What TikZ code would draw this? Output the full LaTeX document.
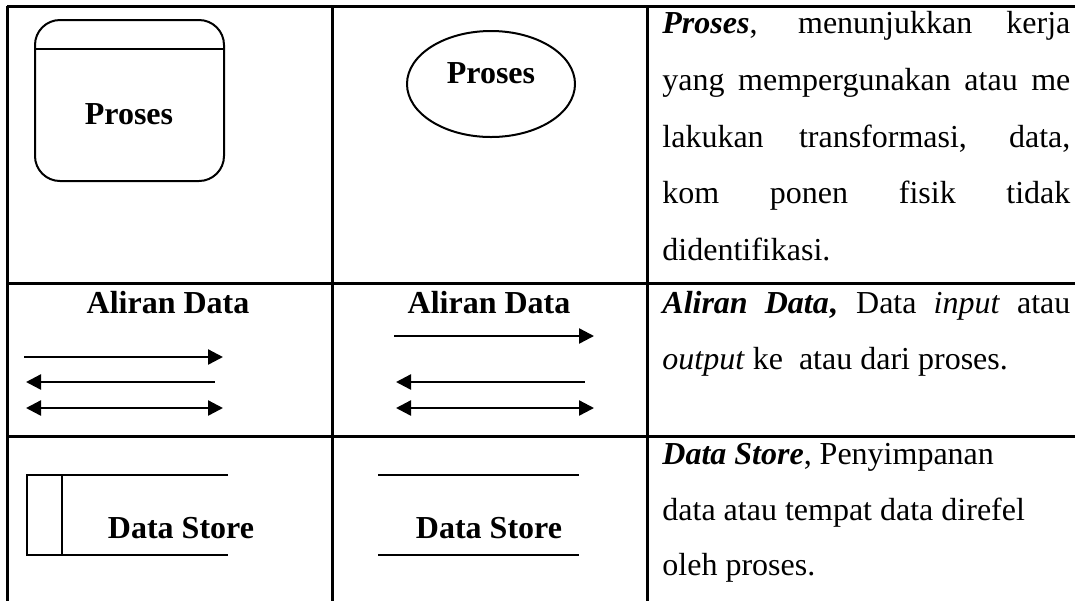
\documentclass[tikz,border=0pt]{standalone}
\usepackage{fontspec}
\setmainfont{Liberation Serif}
\usetikzlibrary{arrows.meta,shapes.geometric}

\begin{document}
\begin{tikzpicture}[x=0.5pt,y=-0.5pt,
  grid/.style={line width=1.5pt},
  outline/.style={line width=1pt},
  tip/.tip={Triangle[length=7.5pt,width=7.5pt]},
  flow/.style={line width=1.2pt,-tip},
  backflow/.style={line width=1.2pt,tip-},
  bothflow/.style={line width=1.2pt,tip-tip},
  lbl/.style={font=\fontsize{16}{19}\selectfont\bfseries,inner sep=0pt,anchor=base},
  body/.style={font=\fontsize{16}{19}\selectfont,inner sep=0pt,anchor=base west},
]
\useasboundingbox (0,0) rectangle (1075,601);

% table rules
\draw[grid] (7,6) -- (1075,6);
\draw[grid] (7,283) -- (1075,283);
\draw[grid] (7,436) -- (1075,436);
\draw[grid] (7,6) -- (7,601);
\draw[grid] (332,6) -- (332,601);
\draw[grid] (647,6) -- (647,601);

% row 1: process symbols
\draw[outline,rounded corners=12.5pt] (35,20) rectangle (224,181);
\draw[outline] (35,49) -- (224,49);
\node[lbl] (procA) at (129,124) {Proses};
\draw[outline] (491,84) ellipse [x radius=42pt,y radius=26.5pt];
\node[lbl] (procB) at (491,83) {Proses};

% row 2: data flow symbols
\node[lbl] (flowA) at (168,313) {Aliran Data};
\coordinate (a1s) at (24,357);  \coordinate (a1e) at (223,357);
\coordinate (a2s) at (26,382);  \coordinate (a2e) at (215,382);
\coordinate (a3s) at (26,408);  \coordinate (a3e) at (223,408);
\draw[flow] (a1s) -- (a1e);
\draw[backflow] (a2s) -- (a2e);
\draw[bothflow] (a3s) -- (a3e);

\node[lbl] (flowB) at (489,313) {Aliran Data};
\coordinate (b1s) at (394,336); \coordinate (b1e) at (594,336);
\coordinate (b2s) at (396,382); \coordinate (b2e) at (585,382);
\coordinate (b3s) at (396,408); \coordinate (b3e) at (594,408);
\draw[flow] (b1s) -- (b1e);
\draw[backflow] (b2s) -- (b2e);
\draw[bothflow] (b3s) -- (b3e);

% row 3: data store symbols
\draw[outline] (228,475) -- (27,475) -- (27,555) -- (228,555);
\draw[outline] (62,475) -- (62,555);
\node[lbl] (storeA) at (181,538) {Data Store};
\draw[outline] (378,475) -- (579,475);
\draw[outline] (378,555) -- (579,555);
\node[lbl] (storeB) at (489,538) {Data Store};

% descriptions
\node[body] (d11) at (662,33) {\makebox[204pt][s]{\textbf{\textit{Proses}}, menunjukkan kerja}};
\node[body] (d12) at (662,90) {\makebox[204pt][s]{yang mempergunakan atau me}};
\node[body] (d13) at (662,147) {\makebox[204pt][s]{lakukan transformasi, data,}};
\node[body] (d14) at (662,203) {\makebox[204pt][s]{kom ponen fisik tidak}};
\node[body] (d15) at (662,260) {didentifikasi.};

\node[body] (d21) at (662,313) {\makebox[204pt][s]{\textbf{\textit{Aliran Data},} Data \textit{input} atau}};
\node[body] (d22) at (662,369) {\textit{output} ke\ \ atau dari proses.};

\node[body] (d31) at (662,464) {\textbf{\textit{Data Store}}, Penyimpanan};
\node[body] (d32) at (662,520) {data atau tempat data direfel};
\node[body] (d33) at (662,575) {oleh proses.};
\end{tikzpicture}
\end{document}
